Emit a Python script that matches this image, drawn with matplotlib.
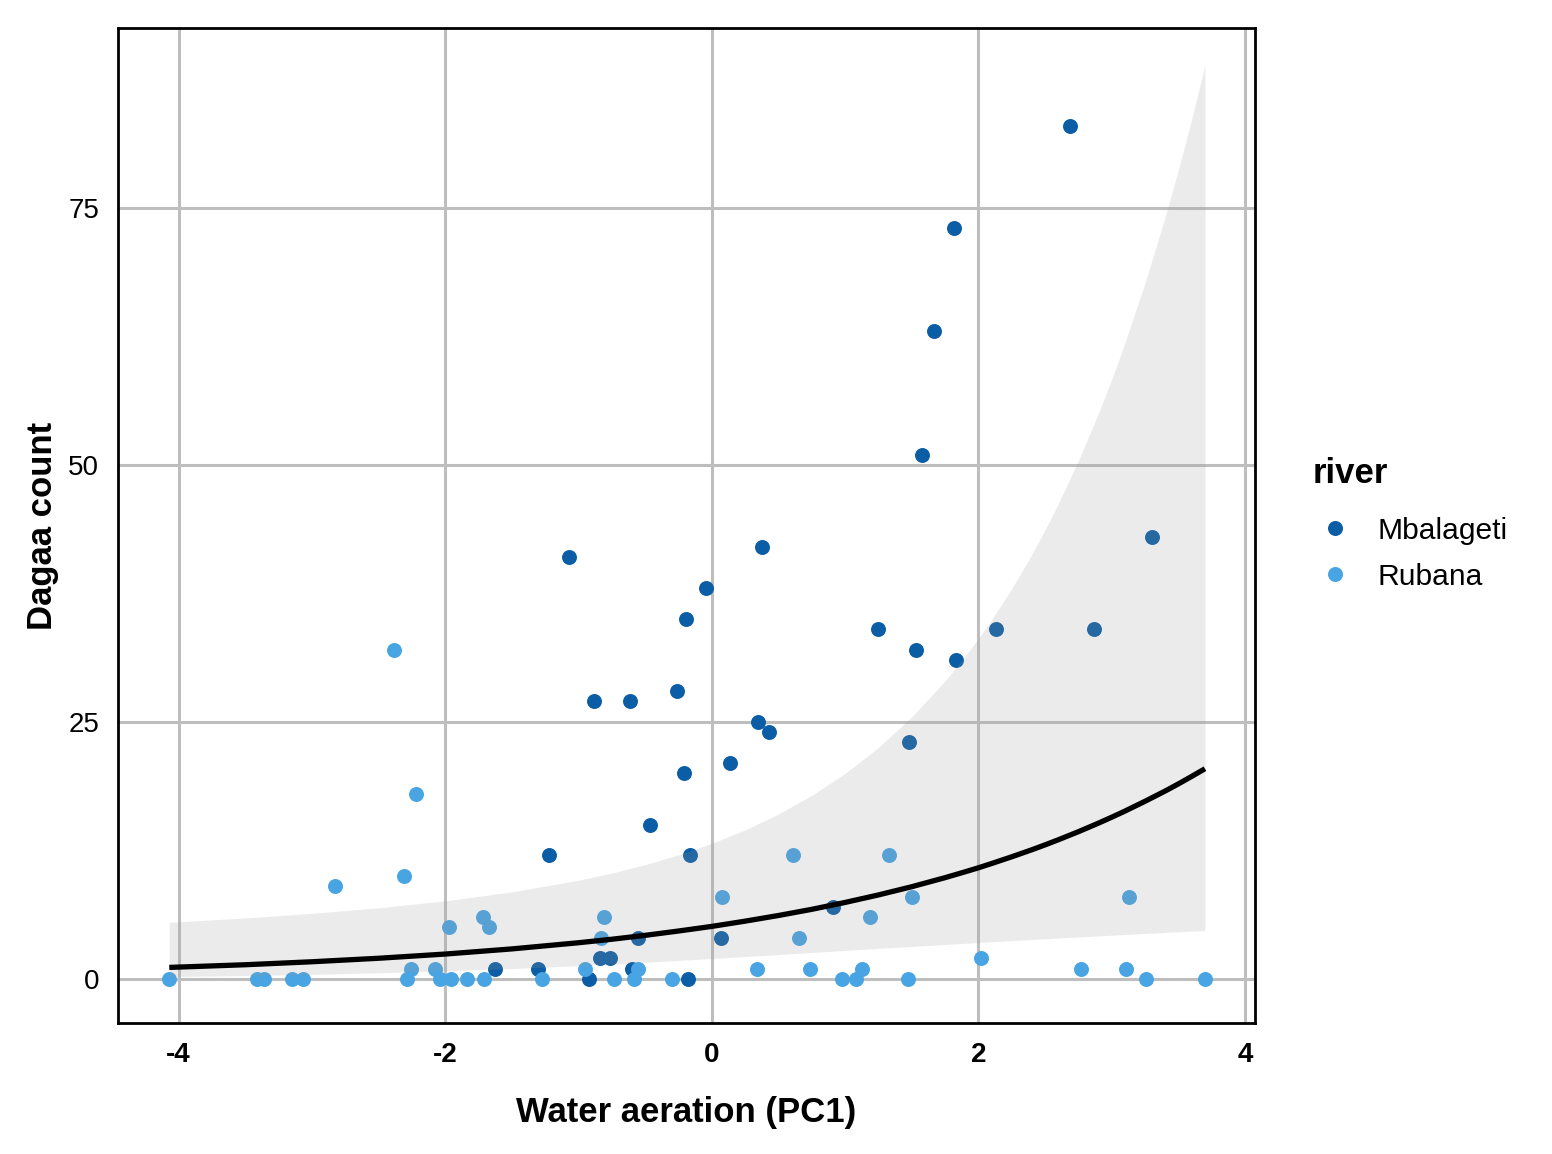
import matplotlib
matplotlib.use("Agg")
import matplotlib.pyplot as plt
from matplotlib.lines import Line2D

plt.rcParams['font.family'] = ['Liberation Sans', 'DejaVu Sans']

# ---- data ----
mb_x = [-1.63, -1.30, -0.92, -0.84, -0.765, -0.60, -0.555, -0.18, 0.07, 0.91,
        -1.07, -1.22, -0.885, -0.615, -0.46, -0.26, -0.21, -0.195, -0.16, -0.045,
        0.14, 0.345, 0.375, 0.43, 1.25, 1.48, 1.53, 1.575, 1.67, 1.82,
        1.83, 2.13, 2.69, 2.865, 3.30]
mb_y = [1, 1, 0, 2, 2, 1, 4, 0, 4, 7,
        41, 12, 27, 27, 15, 28, 20, 35, 12, 38,
        21, 25, 42, 24, 34, 23, 32, 51, 63, 73,
        31, 34, 83, 34, 43]

ru_x = [-4.07, -3.41, -3.36, -3.15, -3.07, -2.29, -2.26, -2.08, -2.04, -1.96,
        -1.84, -1.71, -1.97, -1.72, -1.67, -1.27, -0.95, -0.83, -0.81, -0.735,
        -0.555, -0.58, -0.30, 0.08, 0.61, 0.655, 0.34, 0.74, 0.975, 1.08,
        1.125, 1.19, 1.33, 1.475, 1.50, 2.02, 2.77, 3.11, 3.13, 3.26,
        3.70, -2.83, -2.31, -2.22, -2.385]
ru_y = [0, 0, 0, 0, 0, 0, 1, 1, 0, 0,
        0, 0, 5, 6, 5, 0, 1, 4, 6, 0,
        1, 0, 0, 8, 12, 4, 1, 1, 0, 0,
        1, 6, 12, 0, 8, 2, 1, 1, 8, 0,
        0, 9, 10, 18, 32]

# fitted curve and confidence band
fit_x  = [-4.07, -3.5, -3.0, -2.5, -2.0, -1.5, -1.0, -0.75, -0.5, -0.25,
          0.0, 0.25, 0.5, 0.75, 1.0, 1.25, 1.5, 1.75, 1.9, 2.0,
          2.1, 2.25, 2.4, 2.5, 2.6, 2.75, 2.9, 3.0, 3.1, 3.25,
          3.4, 3.5, 3.6, 3.7]
fit_y  = [1.11, 1.37, 1.66, 2.00, 2.41, 2.91, 3.51, 3.85, 4.23, 4.65,
          5.10, 5.61, 6.16, 6.76, 7.43, 8.16, 8.96, 9.84, 10.41, 10.80,
          11.22, 11.87, 12.55, 13.03, 13.53, 14.31, 15.14, 15.72, 16.32, 17.27,
          18.26, 18.96, 19.69, 20.44]
fit_lo = [0.22, 0.32, 0.43, 0.58, 0.77, 1.00, 1.28, 1.44, 1.61, 1.79,
          1.98, 2.17, 2.36, 2.56, 2.76, 2.96, 3.15, 3.34, 3.45, 3.53,
          3.60, 3.71, 3.82, 3.89, 3.96, 4.07, 4.17, 4.24, 4.31, 4.41,
          4.51, 4.57, 4.64, 4.70]
fit_hi = [5.50, 5.92, 6.37, 6.91, 7.59, 8.46, 9.59, 10.29, 11.11, 12.06,
          13.18, 14.49, 16.03, 17.85, 19.99, 22.51, 25.48, 28.98, 31.37, 33.10,
          34.94, 37.96, 41.27, 43.67, 46.23, 50.4, 55.0, 58.3, 61.9, 67.7,
          74.05, 78.7, 83.6, 88.9]

x_ticks = [-4, -2, 0, 2, 4]
y_ticks = [0, 25, 50, 75]
col_mb = '#0B5DA5'
col_ru = '#48A4E2'

# ---- figure ----
fig = plt.figure(figsize=(7.76, 5.77), dpi=200)
ax = fig.add_axes([0.0760, 0.1135, 0.8086 - 0.0760, 0.9757 - 0.1135])

ax.scatter(mb_x, mb_y, s=29, color=col_mb, linewidths=0, zorder=3)
ax.scatter(ru_x, ru_y, s=29, color=col_ru, linewidths=0, zorder=3)
ax.fill_between(fit_x, fit_lo, fit_hi, color='#999999', alpha=0.19,
                linewidth=0, zorder=4)
ax.plot(fit_x, fit_y, color='black', linewidth=1.9, zorder=5,
        solid_capstyle='butt', solid_joinstyle='round')

ax.set_xlim(-4.455, 4.075)
ax.set_ylim(-4.3, 92.5)
ax.set_xticks(x_ticks)
ax.set_yticks(y_ticks)
ax.set_xticklabels([str(v) for v in x_ticks], fontweight='bold', fontsize=10)
ax.set_yticklabels([str(v) for v in y_ticks], fontsize=10)
ax.grid(True, color='#BEBEBE', linewidth=1.1)
ax.set_axisbelow(True)
for sp in ax.spines.values():
    sp.set_color('black')
    sp.set_linewidth(1.0)
ax.tick_params(axis='both', length=0, labelcolor='black', pad=6.8)

ax.set_xlabel('Water aeration (PC1)', fontweight='bold', fontsize=12.5, labelpad=10)
ax.set_ylabel('Dagaa count', fontweight='bold', fontsize=12.5, labelpad=3.2)

handles = [Line2D([], [], linestyle='none', marker='o', markersize=5.4,
                  markerfacecolor=col_mb, markeredgewidth=0),
           Line2D([], [], linestyle='none', marker='o', markersize=5.4,
                  markerfacecolor=col_ru, markeredgewidth=0)]
fig.text(1313 / 1552, 1 - 483 / 1154, 'river', fontsize=12.5,
         fontweight='bold', ha='left', va='baseline')
leg = fig.legend(handles, ['Mbalageti', 'Rubana'],
                 loc='upper left', bbox_to_anchor=(1305 / 1552, 0.5522),
                 frameon=False, fontsize=10.8,
                 handletextpad=0.43, labelspacing=0.6, borderpad=0,
                 borderaxespad=0)

fig.savefig('out.png', dpi=200, facecolor='white')
